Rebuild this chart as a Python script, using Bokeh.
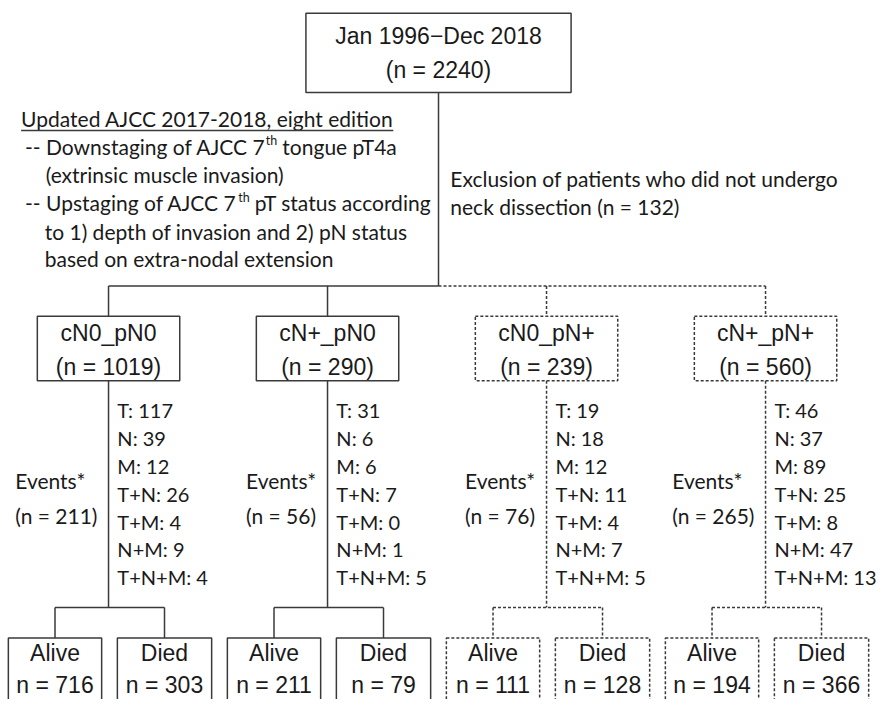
from bokeh.plotting import figure
from bokeh.models import Range1d
from bokeh.embed import file_html
from bokeh.resources import INLINE
from bokeh.core.properties import value

# ---------------- data ----------------
top_title = "Jan 1996\u2212Dec 2018"
total_n = 2240
excluded_n = 132
groups = ["cN0_pN0", "cN+_pN0", "cN0_pN+", "cN+_pN+"]
group_n = [1019, 290, 239, 560]
events_n = [211, 56, 76, 265]
event_types = ["T", "N", "M", "T+N", "T+M", "N+M", "T+N+M"]
ev_T = [117, 31, 19, 46]
ev_N = [39, 6, 18, 37]
ev_M = [12, 6, 12, 89]
ev_TN = [26, 7, 11, 25]
ev_TM = [4, 0, 4, 8]
ev_NM = [9, 1, 7, 47]
ev_TNM = [4, 5, 5, 13]
alive_n = [716, 211, 111, 194]
died_n = [303, 79, 128, 366]
dashed_group = [False, False, True, True]
outcome_labels = ["Alive", "Died"]
ajcc_title = "Updated AJCC 2017-2018, eight edition"
exclusion_lines = ["Exclusion of patients who did not undergo",
                   "neck dissection (n = %d)" % excluded_n]

# ---------------- layout ----------------
W, H = 877, 699
p = figure(width=W, height=H, output_backend="svg", toolbar_location=None,
           x_range=Range1d(0, 893), y_range=Range1d(715, 0),
           x_axis_type=None, y_axis_type=None, min_border=0)
p.grid.visible = False
p.outline_line_color = None
p.background_fill_color = "white"

LC = "#3a3a3a"
LW = 1.5
DASH = "3 2"
BOX_FONT = value("Liberation Sans")
TXT_FONT = value("Lato")
TC = "#1a1a1a"
BOX_FS = value("23px")
TXT_FS = value("21px")
BRK_FS = value("20px")
SUP_FS = value("12.5px")

centers = [110 + 223 * i for i in range(4)]
top_cx = 446
top_l, top_r, top_t, top_b = 311, 581, 13, 94
branch_y = 292
gbox_t, gbox_b, gbox_hw = 323, 389, 72.5
split_y = 621
obox_t, obox_b = 652, 790
alive_off = (-102, -7)
died_off = (9, 105)


def seg(x0, y0, x1, y1, dashed=False):
    if dashed:
        p.segment(x0, y0, x1, y1, line_color=LC, line_width=LW, line_dash=DASH)
    else:
        p.segment(x0, y0, x1, y1, line_color=LC, line_width=LW)


# top box
p.quad(left=[top_l], right=[top_r], top=[top_t], bottom=[top_b],
       fill_color="white", line_color=LC, line_width=LW)
p.text(x=[top_cx, top_cx], y=[36, 71], text=[top_title, "(n = %d)" % total_n],
       text_align="center", text_baseline="middle", text_font=BOX_FONT,
       text_font_size=BOX_FS, text_color=TC)

# trunk and branch
seg([top_cx], [top_b], [top_cx], [branch_y])
seg([centers[0]], [branch_y], [top_cx], [branch_y])
seg([top_cx], [branch_y], [centers[3]], [branch_y], dashed=True)

for i, c in enumerate(centers):
    d = dashed_group[i]
    seg([c], [branch_y], [c], [gbox_t], dashed=d)
    kw = dict(fill_color="white", line_color=LC, line_width=LW)
    if d:
        kw["line_dash"] = DASH
    p.quad(left=[c - gbox_hw], right=[c + gbox_hw], top=[gbox_t], bottom=[gbox_b], **kw)
    p.text(x=[c, c], y=[340, 375], text=[groups[i], "(n = %d)" % group_n[i]],
           text_align="center", text_baseline="middle", text_font=BOX_FONT,
           text_font_size=BOX_FS, text_color=TC)
    seg([c], [gbox_b], [c], [split_y], dashed=d)
    ax = c + (alive_off[0] + alive_off[1]) / 2
    dx = c + (died_off[0] + died_off[1]) / 2
    seg([ax], [split_y], [dx], [split_y], dashed=d)
    seg([ax, dx], [split_y, split_y], [ax, dx], [obox_t, obox_t], dashed=d)
    p.quad(left=[c + alive_off[0], c + died_off[0]], right=[c + alive_off[1], c + died_off[1]],
           top=[obox_t, obox_t], bottom=[obox_b, obox_b], **kw)
    p.text(x=[ax, dx, ax, dx], y=[667, 667, 700, 700],
           text=[outcome_labels[0], outcome_labels[1],
                 "n = %d" % alive_n[i], "n = %d" % died_n[i]],
           text_align="center", text_baseline="middle", text_font=BOX_FONT,
           text_font_size=BOX_FS, text_color=TC)
    vals = [ev_T[i], ev_N[i], ev_M[i], ev_TN[i], ev_TM[i], ev_NM[i], ev_TNM[i]]
    p.text(x=[c + 9] * 7, y=[419 + 28.5 * k for k in range(7)],
           text=["%s: %d" % (lab, v) for lab, v in zip(event_types, vals)],
           text_align="left", text_baseline="middle", text_font=TXT_FONT,
           text_font_size=BRK_FS, text_color=TC)
    ex = c - (95 if events_n[i] >= 100 else 83)
    p.text(x=[ex, ex], y=[491, 527], text=["Events*", "(n = %d)" % events_n[i]],
           text_align="left", text_baseline="middle", text_font=TXT_FONT,
           text_font_size=TXT_FS, text_color=TC)

# left annotation
p.text(x=[21], y=[121], text=[ajcc_title], text_align="left", text_baseline="middle",
       text_font=TXT_FONT, text_font_size=TXT_FS, text_color=TC)
seg([21], [133], [400], [133])
p.text(x=[25, 287, 46, 25, 259, 45, 45], y=[149, 149, 178, 207, 207, 236, 264],
       text=["-- Downstaging of AJCC 7", "tongue pT4a", "(extrinsic muscle invasion)",
             "-- Upstaging of AJCC 7", "pT status according",
             "to 1) depth of invasion and 2) pN status", "based on extra-nodal extension"],
       text_align="left", text_baseline="middle", text_font=TXT_FONT,
       text_font_size=TXT_FS, text_color=TC)
p.text(x=[270, 242], y=[143, 201], text=["th", "th"], text_align="left",
       text_baseline="middle", text_font=TXT_FONT, text_font_size=SUP_FS, text_color=TC)

p.text(x=[458, 458], y=[182, 211], text=exclusion_lines, text_align="left",
       text_baseline="middle", text_font=TXT_FONT, text_font_size=TXT_FS, text_color=TC)

open("out.html", "w").write(file_html(p, INLINE))
